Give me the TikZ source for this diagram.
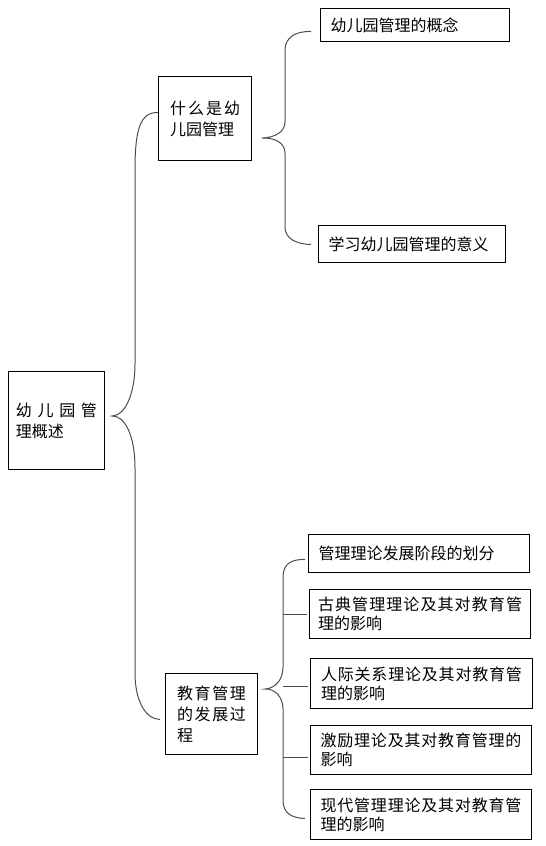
\documentclass[tikz,border=0pt]{standalone}
\usepackage{fontspec}
\newfontfamily\cjk{Noto Sans CJK SC}
\makeatletter
\newcommand{\spaced}[1]{\makebox[\hsize][s]{\spaced@#1\@nil}}
\def\spaced@#1#2{#1\ifx#2\@nil\expandafter\@gobble\else\hfil\expandafter\spaced@\fi#2}
\makeatother
\tikzset{
  box/.style={draw, line width=1pt, inner sep=0pt, anchor=north west, align=left,
    font=\cjk\fontsize{16}{19}\selectfont},
  bigbox/.style={box, font=\cjk\fontsize{16}{21}\selectfont},
  brace/.style={draw=black!70, line width=1pt}
}
\begin{document}
\begin{tikzpicture}[x=1pt, y=-1pt]
            \useasboundingbox (0,0) rectangle (546,846);

            % Root
            \node[bigbox, minimum width=96pt, minimum height=98pt, text width=81pt] (root) at (8,371) {\spaced{幼儿园管}\\理概述};

            % First branch
            \node[bigbox, minimum width=93pt, minimum height=84pt, text width=70pt] (what) at (158,76) {\spaced{什么是幼}\\儿园管理};
            \node[box, minimum width=189pt, minimum height=33pt, text width=169pt] (concept) at (320,8) {幼儿园管理的概念};
            \node[box, minimum width=187pt, minimum height=37pt, text width=167pt] (meaning) at (318,225) {学习幼儿园管理的意义};

            % Second branch
            \node[bigbox, minimum width=92pt, minimum height=81pt, text width=69pt] (history) at (165,673) {\spaced{教育管理}\\\spaced{的发展过}\\程};
            \node[box, minimum width=221pt, minimum height=38pt, text width=201pt] (stages) at (308,534) {管理理论发展阶段的划分};
            \node[box, minimum width=221pt, minimum height=49pt, text width=204pt] (classic) at (309,589) {\spaced{古典管理理论及其对教育管}\\理的影响};
            \node[box, minimum width=222pt, minimum height=50pt, text width=201pt] (human) at (310,658) {\spaced{人际关系理论及其对教育管}\\理的影响};
            \node[box, minimum width=221pt, minimum height=49pt, text width=201pt] (motive) at (310,725) {\spaced{激励理论及其对教育管理的}\\影响};
            \node[box, minimum width=221pt, minimum height=50pt, text width=201pt] (modern) at (310,789) {\spaced{现代管理理论及其对教育管}\\理的影响};

            % Brace from the root
            \draw[brace] ([yshift=6pt]what.west) .. controls (140,112) and (135,130) .. (135,170) -- (135,363)
              .. controls (135,395) and (125,415.5) .. ([xshift=7pt, yshift=4.5pt]root.east)
              .. controls (125,415.5) and (135,436) .. (135,468) -- (135,673)
              .. controls (135,700) and (145,719) .. ([xshift=-5pt, yshift=-5.5pt]history.west);

            % Brace of the first branch
            \draw[brace] ([xshift=-9pt, yshift=-6.5pt]concept.west) .. controls (295,31) and (285,38) .. (285,50) -- (285,122)
              .. controls (285,132) and (275,137.5) .. ([xshift=10pt, yshift=-19.5pt]what.east)
              .. controls (275,137.5) and (285,143) .. (285,153) -- (285,227)
              .. controls (285,238) and (295,244) .. ([xshift=-7pt, yshift=-0.5pt]meaning.west);

            % Brace of the second branch
            \draw[brace] ([xshift=-3pt, yshift=-6pt]stages.west) .. controls (290,559) and (283,565) .. (283,577) -- (283,667)
              .. controls (283,680) and (275,688.5) .. ([xshift=7pt, yshift=25pt]history.east)
              .. controls (275,688.5) and (283,697) .. (283,709) -- (283,800)
              .. controls (283,812) and (290,818) .. ([xshift=-5pt, yshift=-4pt]modern.west);
            \draw[brace] ([xshift=-2pt]classic.west) -- ++(-24,0);
            \draw[brace] ([xshift=-2pt, yshift=-3pt]human.west) -- ++(-25,0);
            \draw[brace] ([xshift=-2pt, yshift=-7pt]motive.west) -- ++(-25,0);
        \end{tikzpicture}
\end{document}
